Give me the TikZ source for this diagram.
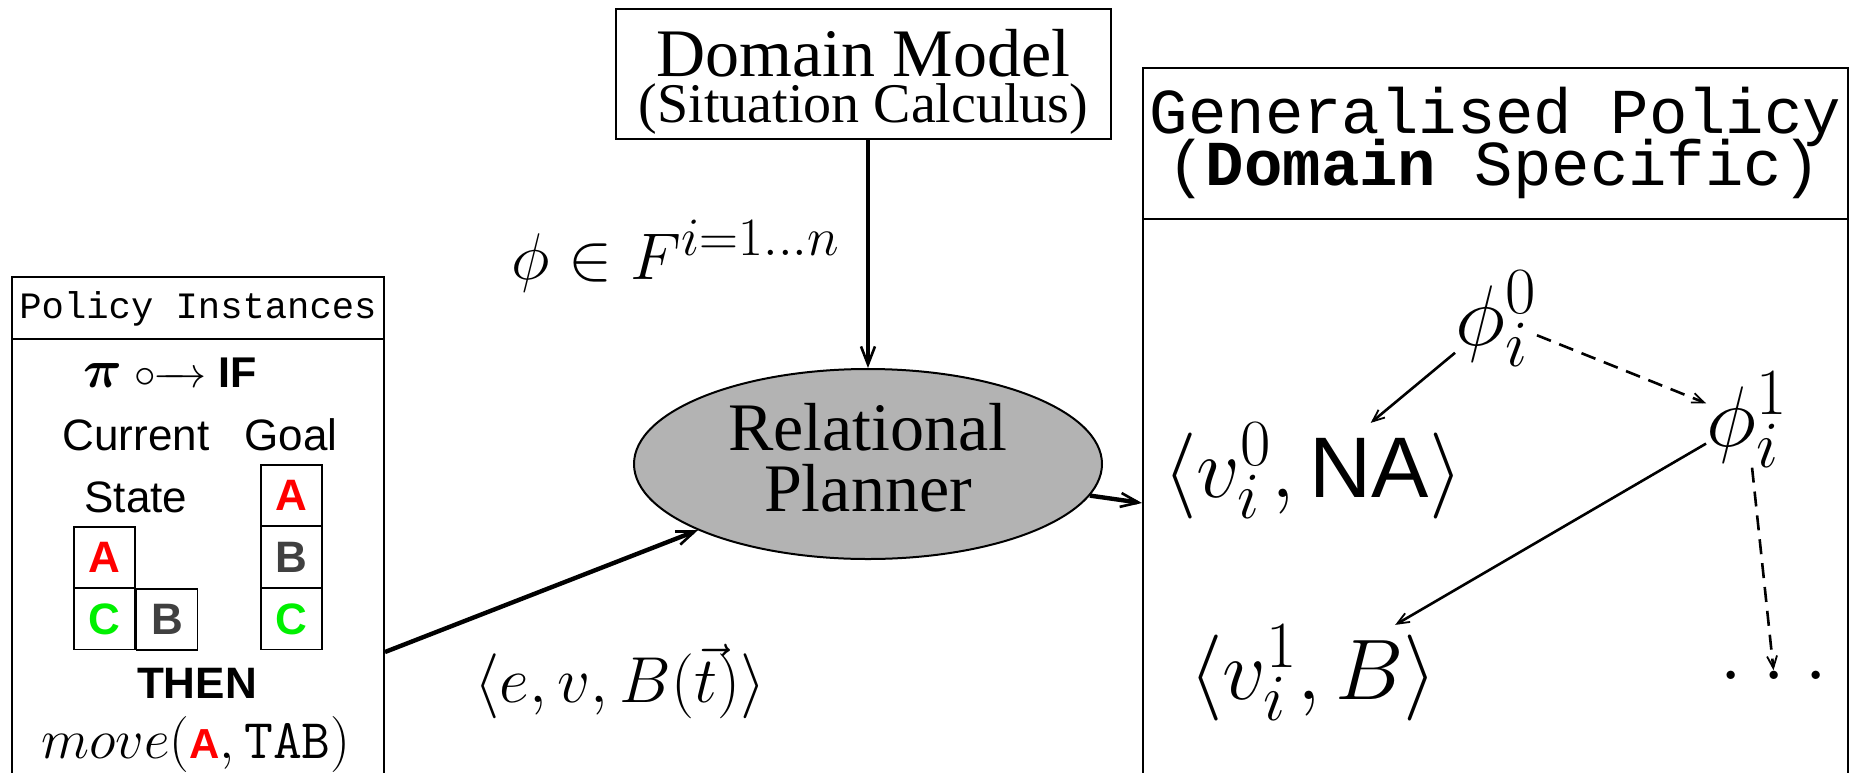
\RequirePackage{fix-cm}
\documentclass[tikz,border=0pt]{standalone}
\usepackage{amsmath}
\usepackage{fontspec}
\newfontfamily\timesf{Liberation Serif}
\newfontfamily\courf{Liberation Mono}
\newfontfamily\helvf{Liberation Sans}
\usetikzlibrary{shapes.geometric,arrows.meta}
\DeclareMathSizes{43}{43}{33}{24}
\DeclareMathSizes{33}{33}{27}{20}
\definecolor{plgray}{RGB}{179,179,179}
\definecolor{bred}{RGB}{255,0,0}
\definecolor{bgreen}{RGB}{0,240,0}
\definecolor{bgray}{RGB}{64,64,64}
\newcommand\fsz[2]{\fontsize{#1}{#2}\selectfont}
\tikzset{
  box/.style={draw, rectangle, line width=1pt, inner sep=0pt},
  planner/.style={ellipse, draw, line width=1pt, fill=plgray, inner sep=0pt,
    minimum width=234pt, minimum height=95pt},
  block/.style={draw, rectangle, line width=0.9pt, inner sep=0pt, minimum size=30.5pt,
    font=\helvf\bfseries\fsz{22}{26}},
  tm/.style={inner sep=0pt, font=\fsz{43}{50}},
  thickarrow/.style={line width=2.2pt,
    -{Straight Barb[length=9pt,width=7pt,line width=1.3pt]}},
  thinarrow/.style={line width=1.3pt,
    -{Straight Barb[length=6pt,width=5pt,line width=0.9pt]}},
  dasharrow/.style={thinarrow, dash pattern=on 7.5pt off 4.5pt},
}
\begin{document}
\begin{tikzpicture}[x=0.5pt,y=-0.5pt]
\useasboundingbox (0,0) rectangle (1860,772);
\clip (0,0) rectangle (1860,772);

% Domain model box
\node[box, minimum width=247.5pt, minimum height=65pt] (dm) at (863.5,74) {};
\node[anchor=base, inner sep=0pt, font=\timesf\fsz{34}{40}] (dmt) at (863.5,76) {Domain Model};
\node[anchor=base, inner sep=0pt, font=\timesf\fsz{28}{32}] (dms) at (863.5,122) {(Situation Calculus)};

% Relational planner
\node[planner] (rp) at (868,464) {};
\node[anchor=base, inner sep=0pt, font=\timesf\fsz{34}{40}] (rpt1) at (868,450) {Relational};
\node[anchor=base, inner sep=0pt, font=\timesf\fsz{34}{40}] (rpt2) at (868,511) {Planner};

% Policy instances box
\node[box, minimum width=186pt, minimum height=256.5pt] (pib) at (198,533.5) {};
\coordinate (ldiv) at (0,339);
\draw[line width=1pt] (pib.west |- ldiv) -- (pib.east |- ldiv);
\node[anchor=base, inner sep=0pt, font=\courf\fsz{18.6}{22}] (pit) at (198,318) {Policy Instances};
\node[anchor=base, inner sep=0pt, font=\helvf\bfseries\fsz{21.5}{24}] (ifl) at (170,387)
  {{\fsz{27}{30}$\boldsymbol{\pi}$}$\;\mathrel{\circ\mkern-6mu\relbar\mkern-10mu\rightarrow}\;$IF};
\node[anchor=base, inner sep=0pt, font=\helvf\fsz{22}{26}] (cur) at (136,450) {Current};
\node[anchor=base, inner sep=0pt, font=\helvf\fsz{22}{26}] (goal) at (291,450) {Goal};
\node[anchor=base, inner sep=0pt, font=\helvf\fsz{22}{26}] (state) at (136,512) {State};
\node[block, text=bred] (ca) at (104.5,557.5) {A};
\node[block, text=bgreen] (cc) at (104.5,619) {C};
\node[block, text=bgray] (cb) at (167,619.5) {B};
\node[block, text=bred] (ga) at (291.5,495.5) {A};
\node[block, text=bgray] (gb) at (291.5,557) {B};
\node[block, text=bgreen] (gc) at (291.5,619) {C};
\node[anchor=base, inner sep=0pt, font=\helvf\bfseries\fsz{22}{26}] (then) at (197,698) {THEN};
\node[anchor=base, inner sep=0pt, font=\fsz{28}{32}] (act) at (196,758)
  {$move(\text{\helvf\bfseries\fsz{21}{24}\color{bred}A},\mathtt{TAB})$};

% Generalised policy box
\node[box, minimum width=352.5pt, minimum height=361pt] (gp) at (1495.5,429) {};
\coordinate (rdiv) at (0,219);
\draw[line width=1pt] (gp.west |- rdiv) -- (gp.east |- rdiv);
\node[anchor=base, inner sep=0pt, font=\courf\fsz{32}{36}] (gpt) at (1495.5,133) {Generalised Policy};
\node[anchor=base, inner sep=0pt, font=\courf\fsz{32}{36}] (gps) at (1494,185) {(\textbf{Domain} Specific)};

% tree
\node[tm, anchor=base] (p0) at (1496,345) {$\phi_i^0$};
\node[tm, anchor=base] (p1) at (1747,446) {$\phi_i^1$};
\node[tm, anchor=base] (na) at (1313,497) {$\langle v_i^0, \text{\helvf NA}\rangle$};
\node[tm, anchor=base] (vb) at (1313,699) {$\langle v_i^1, B\rangle$};
\node[tm, anchor=base] (dots) at (1774,679) {$.\mkern4mu.\mkern4mu.$};
\draw[thinarrow] (p0) -- (na);
\draw[dasharrow] (p0) -- (p1);
\draw[thinarrow] (p1) -- (vb);
\draw[dasharrow] (p1) -- (dots);

% main connectors
\draw[thickarrow] (dm.south -| rp.north) -- (rp.north);
\coordinate (lout) at (0,652);
\draw[thickarrow] (pib.east |- lout) -- (rp);
\coordinate (rin) at (0,503);
\draw[thickarrow] (rp) -- (gp.west |- rin);

% labels
\node[anchor=base, inner sep=0pt, font=\fsz{33}{40}] (flab) at (676,279) {$\phi \in F^{i=1\ldots n}$};
\node[anchor=base, inner sep=0pt, font=\fsz{32.5}{40}] (elab) at (620,702) {$\langle e, v, B(\vec{t})\rangle$};
\end{tikzpicture}
\end{document}
